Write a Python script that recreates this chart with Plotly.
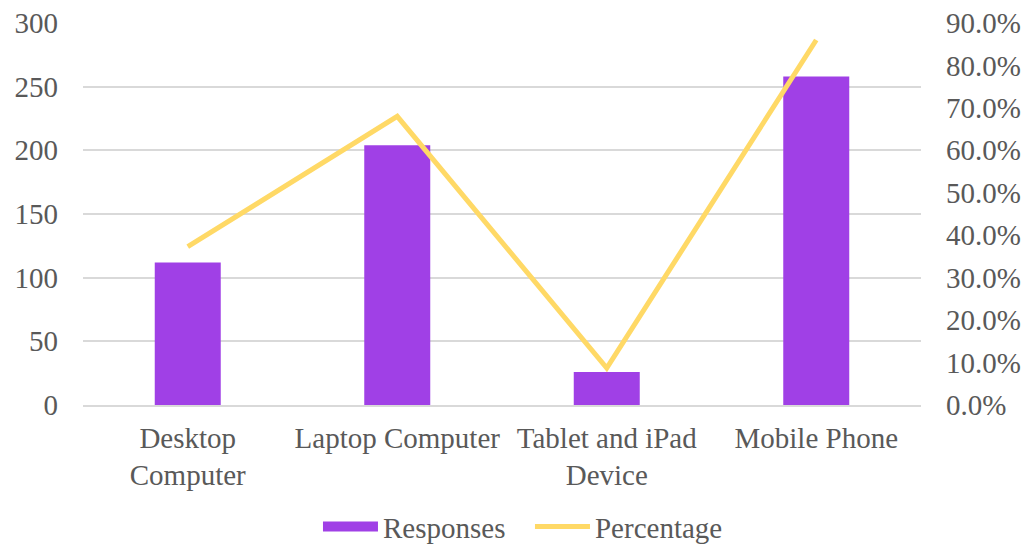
import plotly.graph_objects as go

categories = ["Desktop Computer", "Laptop Computer", "Tablet and iPad Device", "Mobile Phone"]
tick_labels = ["Desktop<br>Computer", "Laptop Computer", "Tablet and iPad<br>Device", "Mobile Phone"]
responses = [112, 204, 26, 258]
percentage = [0.373, 0.68, 0.087, 0.86]

FONT = "Liberation Serif, Times New Roman, serif"
GREY = "#595959"
PURPLE = "#a040e6"
YELLOW = "#ffd966"
FS = 29

fig = go.Figure()
fig.add_trace(go.Bar(
    x=categories, y=responses, name="Responses",
    marker=dict(color=PURPLE, line=dict(width=0)),
    yaxis="y", showlegend=False, legendgroup="resp",
))
# legend-only entry giving the bar series a wide swatch
fig.add_trace(go.Scatter(
    x=[None], y=[None], name="Responses", mode="lines",
    line=dict(color=PURPLE, width=15), legendgroup="resp", yaxis="y",
))
fig.add_trace(go.Scatter(
    x=categories, y=percentage, name="Percentage", mode="lines",
    line=dict(color=YELLOW, width=5),
    yaxis="y2",
))

fig.update_layout(
    width=1028, height=544,
    margin=dict(l=83, r=107, t=23, b=139, autoexpand=False),
    paper_bgcolor="white", plot_bgcolor="white",
    font=dict(family=FONT, size=FS, color=GREY),
    bargap=0.685,
    showlegend=True,
    legend=dict(orientation="h", x=0.2804, xanchor="left", y=-0.385, yanchor="bottom",
                font=dict(size=FS, color=GREY), itemwidth=55, tracegroupgap=0,
                entrywidth=142, entrywidthmode="pixels"),
    xaxis=dict(
        tickmode="array", tickvals=categories, ticktext=tick_labels,
        showgrid=False, showline=True, linecolor="#d9d9d9", linewidth=1.5,
        ticks="", tickfont=dict(size=FS, color=GREY),
        ticklabelstandoff=6, automargin=False,
    ),
    yaxis=dict(
        range=[0, 300], dtick=50, showgrid=True, gridcolor="#d9d9d9", gridwidth=1.5,
        zeroline=False, showline=False, ticks="",
        tickfont=dict(size=FS, color=GREY), ticklabelstandoff=24, automargin=False,
    ),
    yaxis2=dict(
        range=[0, 0.9], dtick=0.1, tickformat=".1%", overlaying="y", side="right",
        showgrid=False, zeroline=False, showline=False, ticks="",
        tickfont=dict(size=FS, color=GREY), ticklabelstandoff=24, automargin=False,
    ),
)

fig.write_html("out.html")
